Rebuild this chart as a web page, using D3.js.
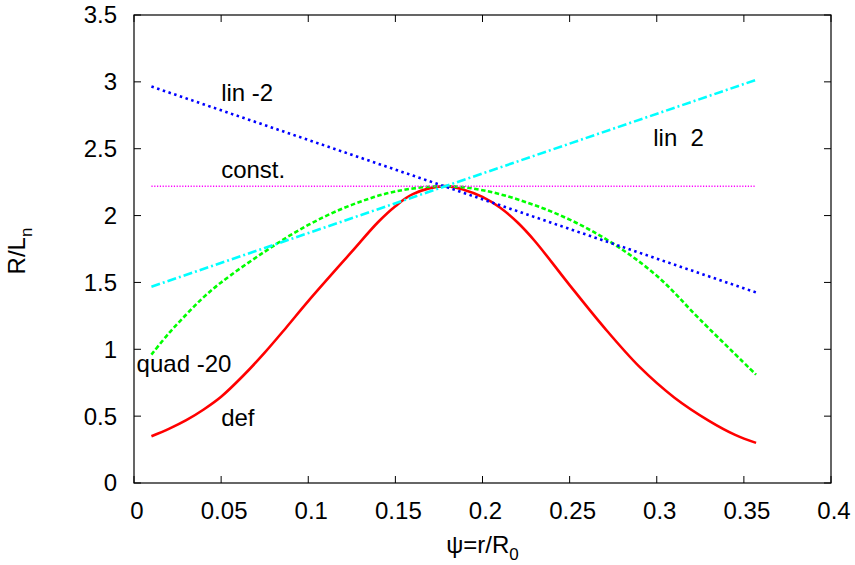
<!DOCTYPE html>
<html>
<head>
<meta charset="utf-8">
<script src="https://cdn.jsdelivr.net/npm/d3@7"></script>
<style>
  body { margin: 0; background: #fff; }
  text { font-family: "Liberation Sans", Arial, sans-serif; font-size: 24px; fill: #000; }
</style>
</head>
<body>
<svg id="chart" width="855" height="565"></svg>
<script>
// x ticks / y ticks
const xTicks = [0, 0.05, 0.1, 0.15, 0.2, 0.25, 0.3, 0.35, 0.4];
const yTicks = [0, 0.5, 1, 1.5, 2, 2.5, 3, 3.5];

// curves
const defX  = [0.01, 0.02, 0.03, 0.04, 0.05, 0.0625, 0.075, 0.0875, 0.1, 0.125, 0.14, 0.15, 0.16, 0.178, 0.19, 0.2, 0.21, 0.22, 0.23, 0.25, 0.27, 0.29, 0.31, 0.33, 0.345, 0.357];
const defY  = [0.35, 0.405, 0.47, 0.55, 0.645, 0.80, 0.975, 1.165, 1.36, 1.73, 1.95, 2.07, 2.16, 2.22, 2.19, 2.14, 2.06, 1.95, 1.81, 1.48, 1.16, 0.87, 0.64, 0.465, 0.36, 0.30];
const quadX = [0.01, 0.02, 0.03, 0.04, 0.05, 0.075, 0.1, 0.125, 0.15, 0.178, 0.2, 0.225, 0.25, 0.275, 0.3, 0.325, 0.357];
const quadY = [0.96, 1.12, 1.26, 1.39, 1.50, 1.73, 1.93, 2.08, 2.18, 2.22, 2.19, 2.10, 1.97, 1.79, 1.55, 1.22, 0.81];
const linmX = [0.01, 0.357], linmY = [2.965, 1.425];
const linpX = [0.01, 0.357], linpY = [1.468, 3.015];
const constX = [0.01, 0.357], constY = [2.22, 2.22];

const series = [
  { xs: defX,   ys: defY,   color: "#ff0000", width: 2.6, dash: null },
  { xs: quadX,  ys: quadY,  color: "#00ff00", width: 2.6, dash: "4.5,2.5" },
  { xs: linmX,  ys: linmY,  color: "#0000ff", width: 2.6, dash: "2.5,3.5" },
  { xs: constX, ys: constY, color: "#ff00ff", width: 1.5, dash: "1.2,1.6" },
  { xs: linpX,  ys: linpY,  color: "#00ffff", width: 2.6, dash: "9,3,2,3" }
];

const labels = [
  { text: "lin -2",   x: 0.05,  y: 2.86 },
  { text: "lin  2",   x: 0.298, y: 2.52 },
  { text: "const.",   x: 0.05,  y: 2.28 },
  { text: "quad -20", x: 0.0015, y: 0.83 },
  { text: "def",      x: 0.05,  y: 0.43 }
];

const margin = { top: 15, right: 24, bottom: 82, left: 134 },
      width = 855 - margin.left - margin.right,
      height = 565 - margin.top - margin.bottom;

const svg = d3.select("#chart")
  .append("g")
  .attr("transform", "translate(" + margin.left + "," + margin.top + ")");

const x = d3.scaleLinear().domain([0, 0.4]).range([0, width]);
const y = d3.scaleLinear().domain([0, 3.5]).range([height, 0]);

const tickLen = 7;

// frame
svg.append("rect")
  .attr("x", 0).attr("y", 0)
  .attr("width", width).attr("height", height)
  .attr("fill", "none").attr("stroke", "#000").attr("stroke-width", 1.2);

// ticks, mirrored on all sides
svg.selectAll(".xt").data(xTicks).enter().append("path")
  .attr("d", d => "M" + x(d) + "," + height + "v" + (-tickLen) + "M" + x(d) + ",0v" + tickLen)
  .attr("stroke", "#000").attr("stroke-width", 1);
svg.selectAll(".yt").data(yTicks).enter().append("path")
  .attr("d", d => "M0," + y(d) + "h" + tickLen + "M" + width + "," + y(d) + "h" + (-tickLen))
  .attr("stroke", "#000").attr("stroke-width", 1);

svg.selectAll(".xl").data(xTicks).enter().append("text")
  .attr("x", d => x(d) + 3)
  .attr("y", height + 36)
  .attr("text-anchor", "middle")
  .text(d => d3.format("")(d));
svg.selectAll(".yl").data(yTicks).enter().append("text")
  .attr("x", -17)
  .attr("y", d => y(d))
  .attr("dy", "0.35em")
  .attr("text-anchor", "end")
  .text(d => d3.format("")(d));

// axis titles
const xt = svg.append("text")
  .attr("x", width / 2)
  .attr("y", height + 70)
  .attr("text-anchor", "middle");
xt.append("tspan").text("ψ=r/R");
xt.append("tspan").attr("dy", 7).attr("font-size", "17px").text("0");

const yt = svg.append("text")
  .attr("transform", "translate(" + (-109) + "," + (height / 2 + 2) + ") rotate(-90)")
  .attr("text-anchor", "middle");
yt.append("tspan").text("R/L");
yt.append("tspan").attr("dy", 7).attr("font-size", "17px").text("n");

// curves
const line = d3.line()
  .x(d => x(d[0]))
  .y(d => y(d[1]))
  .curve(d3.curveCatmullRom.alpha(0.5));

series.forEach(s => {
  svg.append("path")
    .datum(d3.zip(s.xs, s.ys))
    .attr("d", line)
    .attr("fill", "none")
    .attr("stroke", s.color)
    .attr("stroke-width", s.width)
    .attr("stroke-dasharray", s.dash);
});

svg.selectAll(".lab").data(labels).enter().append("text")
  .attr("x", d => x(d.x))
  .attr("y", d => y(d.y))
  .attr("xml:space", "preserve")
  .style("white-space", "pre")
  .text(d => d.text);
</script>
</body>
</html>
